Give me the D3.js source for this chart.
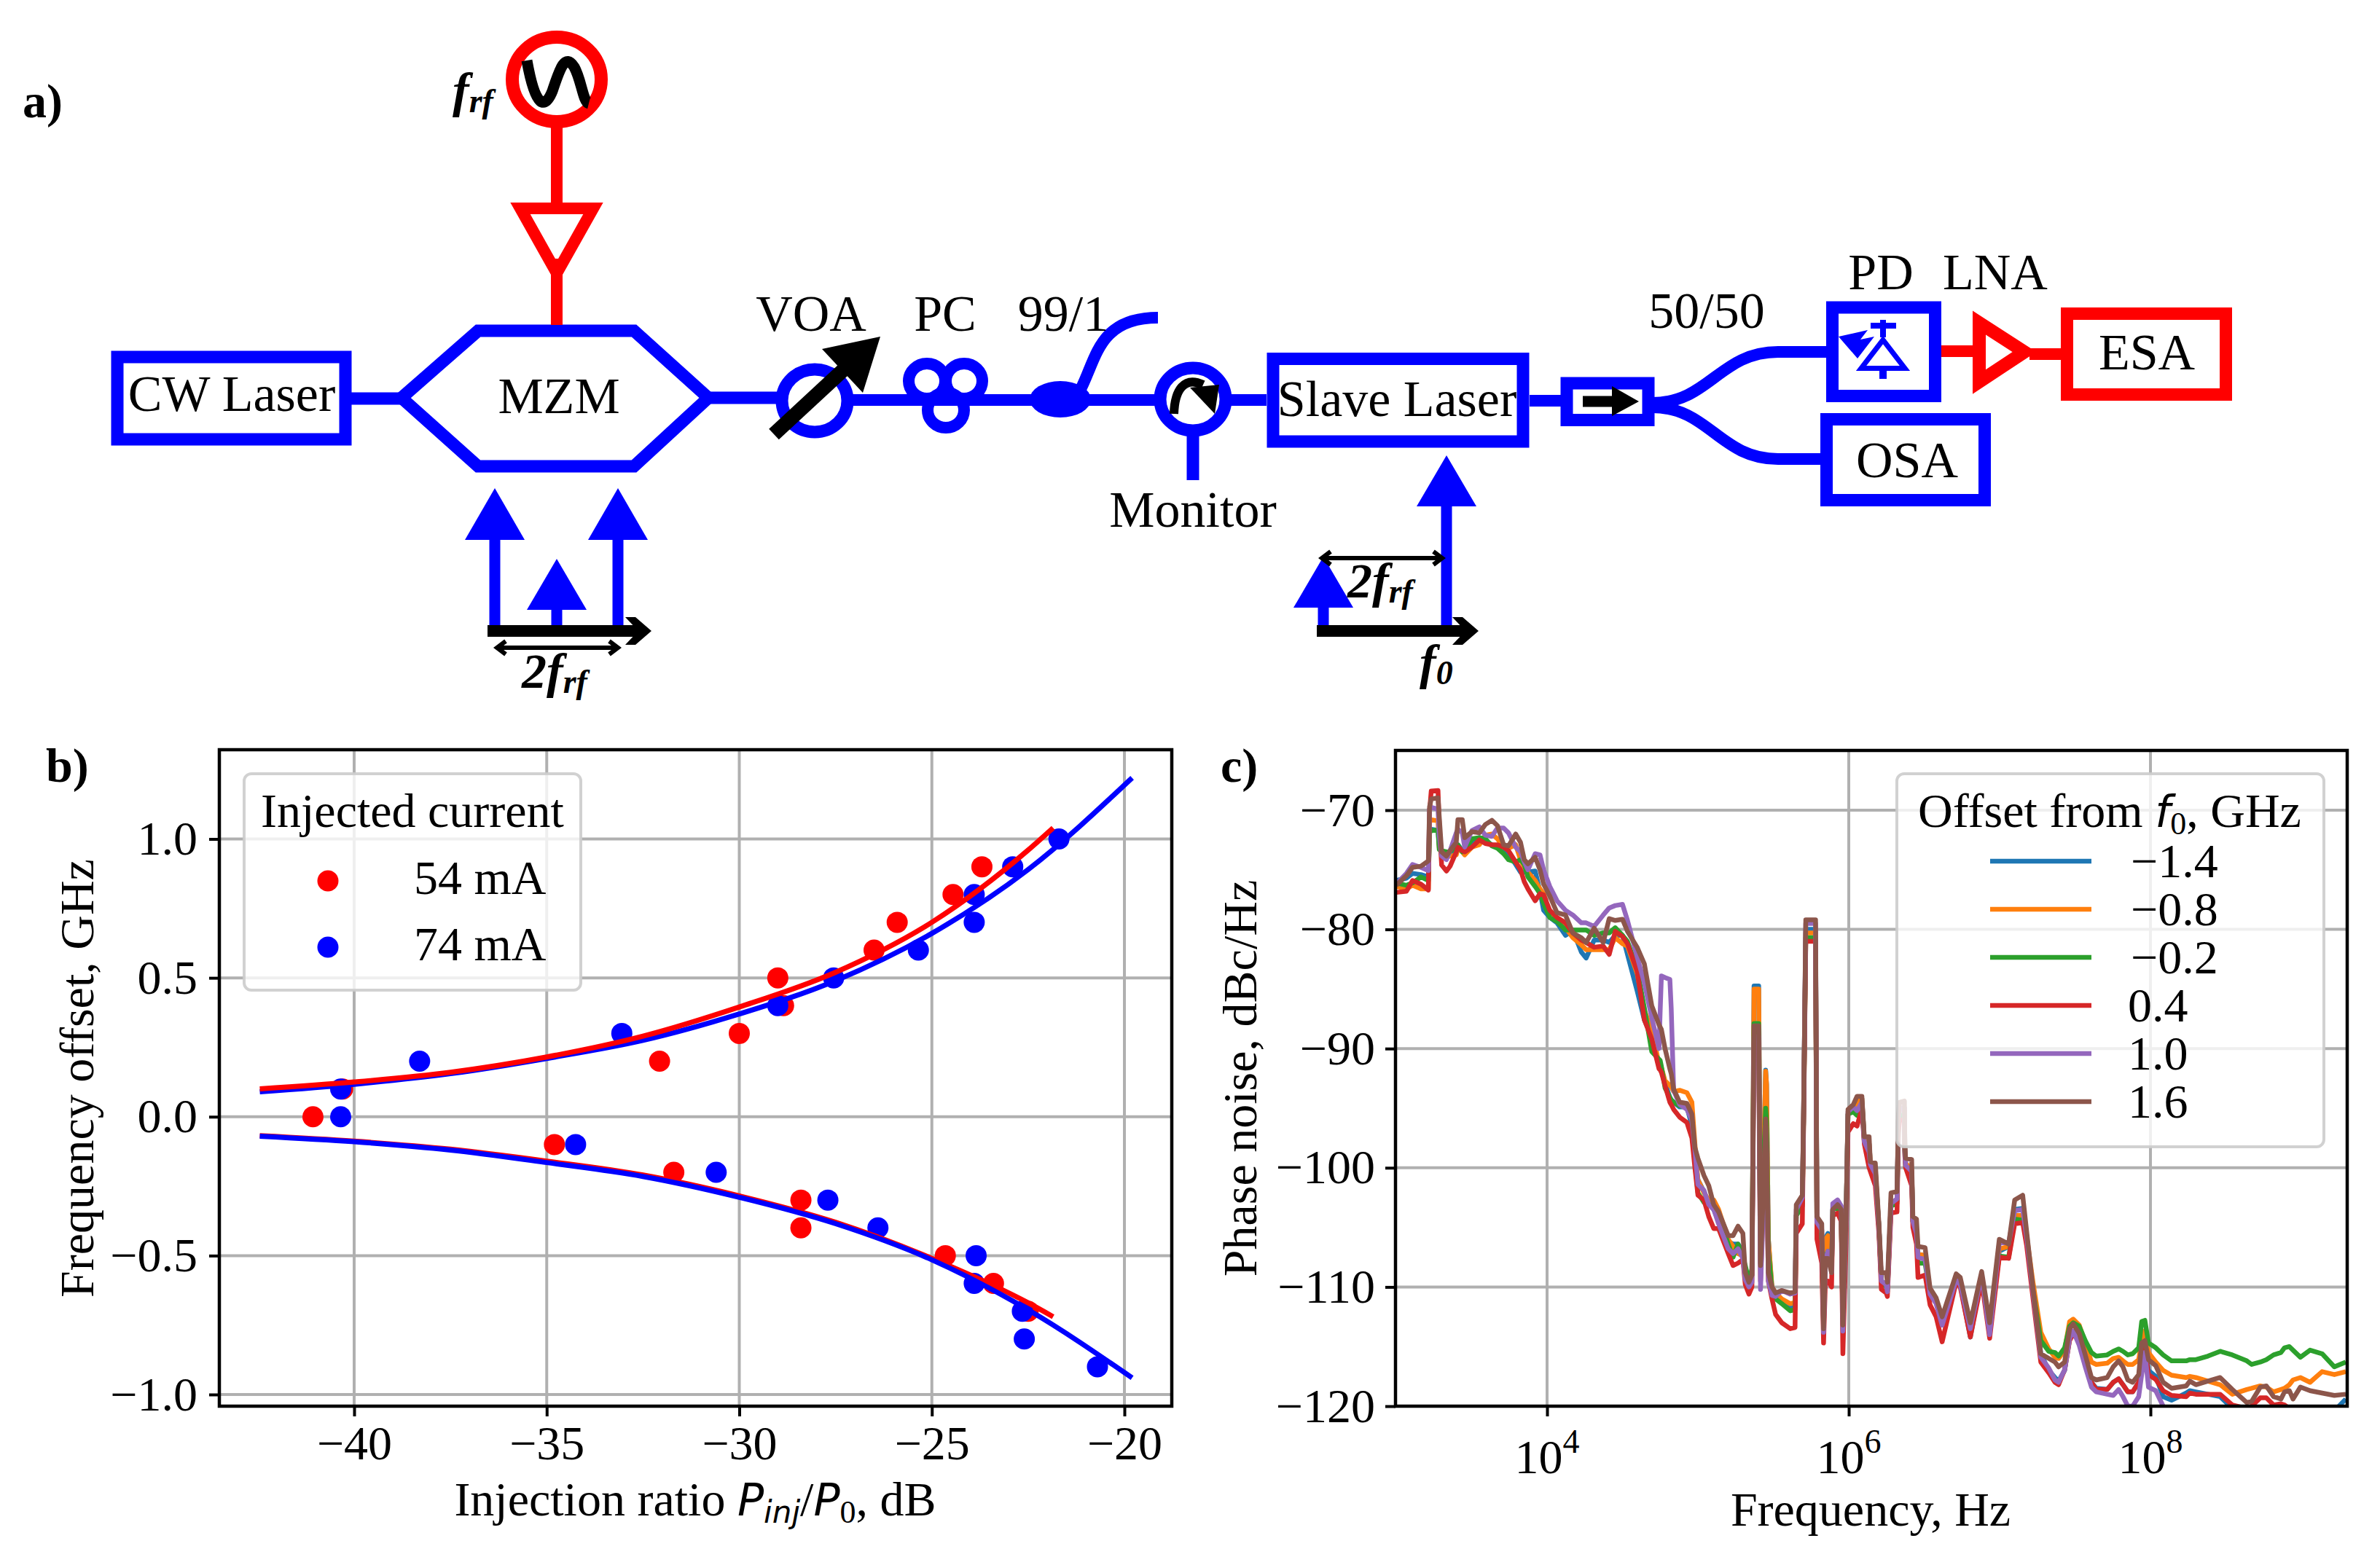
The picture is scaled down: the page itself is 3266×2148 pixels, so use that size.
<!DOCTYPE html>
<html><head><meta charset="utf-8">
<script src="https://cdn.jsdelivr.net/npm/d3@7/dist/d3.min.js"></script>
<style>html,body{margin:0;padding:0;background:#fff}svg{display:block}text{font-family:"Liberation Serif",serif;fill:#000}</style>
</head><body><svg id="c" width="3266" height="2148"></svg>
<script>
// ---------- panel b data ----------
const red54Dots = [[-41.07,0],[-40.3,0.1],[-32.07,0.2],[-30,0.3],[-29,0.5],[-28.85,0.4],[-26.5,0.6],[-25.9,0.7],[-24.45,0.8],[-23.7,0.9],
 [-34.8,-0.1],[-31.7,-0.2],[-28.4,-0.3],[-28.4,-0.4],[-24.65,-0.5],[-23.4,-0.6],[-22.5,-0.7]];
const blue74Dots = [[-40.35,0],[-40.35,0.1],[-38.3,0.2],[-33.05,0.3],[-29,0.4],[-27.55,0.5],[-25.35,0.6],[-23.9,0.7],[-23.9,0.8],[-22.9,0.9],[-21.7,1.0],
 [-34.25,-0.1],[-30.6,-0.2],[-27.7,-0.3],[-26.4,-0.4],[-23.85,-0.5],[-23.9,-0.6],[-22.65,-0.7],[-22.6,-0.8],[-20.7,-0.9]];
const blueFitX = [-42.45,-40,-37.5,-35,-32.5,-30,-27.5,-25,-22.5,-19.8];
const blueUpper = [0.09,0.117,0.155,0.21,0.275,0.37,0.49,0.66,0.89,1.22];
const blueLower = [-0.07,-0.09,-0.12,-0.165,-0.215,-0.29,-0.385,-0.515,-0.695,-0.94];
const redFitX = [-42.45,-40,-37.5,-35,-32.5,-30,-27.5,-25,-22.5,-21.85];
const redUpper = [0.1,0.125,0.16,0.215,0.29,0.395,0.52,0.7,0.96,1.04];
const redLower = [-0.068,-0.088,-0.117,-0.16,-0.21,-0.285,-0.38,-0.51,-0.67,-0.72];
const bXTicks = [-40,-35,-30,-25,-20];
const bYTicks = [-1,-0.5,0,0.5,1];
// ---------- panel c data ----------
const offsetLabels = ["\u22121.4","\u22120.8","\u22120.2","0.4","1.0","1.6"];
const lineColors = ["#1f77b4","#ff7f0e","#2ca02c","#d62728","#9467bd","#8c564b"];
const cXTicks = [4,6,8];
const cYTicks = [-120,-110,-100,-90,-80,-70];
const logFreq = [
3.0,3.068,3.108,3.164,3.213,3.221,3.232,3.277,3.285,3.301,3.333,3.357,3.398,3.409,3.438,3.454,3.502,3.551,3.591,3.634,3.671,3.712,3.744,3.792,3.824,3.849,3.873,3.921,3.953,3.977,4.018,4.066,4.122,4.171,4.227,4.259,4.312,4.372,4.412,
4.452,4.5,4.533,4.597,4.645,4.694,4.742,4.75,4.758,4.782,4.814,4.823,4.839,4.879,4.927,4.96,4.98,
5.0,5.04,5.072,5.105,5.137, 5.201,5.233,5.266,5.298,5.314, 5.338,5.358,5.372,5.403,5.415, 5.44,5.449,5.455,5.467,5.491, 5.515,5.556,5.612,5.644,5.652, 5.692,5.7,5.715,5.78,5.789, 5.821,5.833,5.845,5.862,5.886, 5.894,5.926,5.95,5.961,5.982, 5.995,6.03,6.055,6.087,6.103, 6.135,6.143,6.176,6.2,6.216, 6.248,6.256,6.28,6.32,6.329, 6.337,6.369,6.372,6.377,6.417, 6.425,6.449,6.459,6.506,6.539, 6.579,6.619,6.712,6.739,6.806, 6.881,6.934,6.998,7.06,7.1, 7.153,7.179,7.22,7.273,7.326,
7.367,7.391,7.431,7.464,7.488,7.528,7.568,7.609,7.641,7.713,7.753,7.789,7.818,7.85,7.882,7.922,7.942,7.963,7.987,8.035,8.084,8.14,8.237,8.261,8.301,8.381,8.462,8.543,8.639,8.671,8.728,8.768,8.816,8.865,8.889,8.921,8.945,8.994,9.058,9.138,9.219,9.295];
const noiseBlue = [
-75.9,-75.7,-75.3,-75.4,-75.6,-71.7,-71.6,-71.7,-72.9,-73.75,-73.95,-73.75,-72.9,-72.9,-73.4,-73.5,-72.6,-72.3,-72.6,-72.9,-73.1,-73.4,-73.65,-74.55,-75.2,-75.2,-75.2,-75.1,-76.8,-78.4,-79,-79.45,-80.5,-80.1,-81.9,-82.4,-80.9,-80.9,-81.1,
-80.5,-80.5,-82.1,-85.15,-87.6,-89,-91.3,-91.5,-91.7,-92.9,-94.1,-94.3,-94.5,-94.9,-94.9,-96.5,-99,
-101,-102,-103,-103.5,-104.5, -106.2,-106.4,-106.4,-107,-108.7, -110,-109,-84.75,-84.75,-108, -97,-91.8,-93,-106,-110.2, -110.7,-111.2,-111.8,-111.7,-104, -103,-96,-80,-80,-105, -106,-113,-105.9,-105.5,-108, -103.5,-103.3,-104,-113,-104.5, -95.5,-95.2,-94.5,-94.2,-97.6, -98,-99.5,-100.2,-105,-109.5, -109.8,-110.2,-103,-102.8,-96, -95,-95,-98.5,-99.6,-100.5, -104.5,-105.2,-107.2,-107.4,-110.4, -111.1,-113.2,-109.4,-109.8,-114.2, -109,-113.7,-107,-106.6,-103.5, -103.4,-105.7,-110.3,-115.6,-117,
-117.6,-117.9,-117,-114.4,-113.8,-114.5,-116,-118,-118.5,-118.6,-118,-117.7,-118.2,-118.8,-118.8,-118,-115.5,-115,-117,-117.5,-119.2,-119.5,-118.9,-118.7,-118.8,-119,-119.2,-120.2,-120.6,-120.8,-120.7,-120.6,-120.8,-120.7,-120.7,-120.7,-120.7,-120.6,-120.7,-120.7,-120.4,-119.4];
const noiseOrange = [
-76.4,-76.6,-76.3,-76.6,-76.6,-70.9,-70.8,-70.9,-73.1,-73.75,-73.95,-73.85,-73.75,-73.2,-73.5,-73.75,-73.1,-72.9,-72.1,-72,-72.4,-73.1,-73.2,-72.9,-74.15,-74.8,-75.2,-75.9,-76.6,-77,-78.8,-79.25,-79.85,-80.7,-81.3,-81.7,-81.7,-81.7,-81.7,
-80.7,-81.2,-81.4,-83.7,-86.8,-88.4,-91.3,-91.5,-91.6,-92.7,-93.1,-93.2,-93.6,-93.5,-93.7,-94.5,-98,
-101,-102.1,-102.7,-102.7,-103.5, -106,-106.6,-107.2,-107.4,-108.5, -110,-109,-85,-85,-108, -97,-91.9,-93,-106,-110, -110.5,-111,-111.4,-111.3,-104, -103,-96,-80.3,-80.3,-105, -107,-113,-106,-105.7,-108, -103.5,-103.3,-104,-113,-104.5, -95.5,-95.2,-94.5,-94.2,-97.6, -98,-99.5,-100.2,-105,-109.5, -109.8,-110.2,-103,-102.8,-96, -95,-95,-98.5,-99.6,-100.2, -104.5,-105.2,-107.2,-107.4,-110.4, -111.1,-113,-109.3,-109.7,-113.5, -109.2,-113.5,-106.8,-106.6,-104, -104,-105.7,-109.5,-113.8,-115.2,
-115.9,-116,-115.3,-112.9,-112.7,-113.2,-114.7,-116.3,-116.5,-116.4,-116,-115.9,-116.2,-116.5,-116.5,-116.1,-114.5,-113.7,-115.5,-116.3,-117,-117.4,-117.6,-117.5,-117.6,-117.9,-118.2,-119,-118.6,-118.5,-118.3,-118.4,-118.8,-118.6,-118.5,-118.2,-117.8,-117.6,-118,-117.1,-117.35,-117.1];
const noiseGreen = [
-76.1,-76.3,-76.1,-75.6,-75.9,-71.9,-71.7,-71.7,-73.3,-73.4,-73.5,-73.5,-72.9,-72.9,-73.5,-73.4,-72.4,-72.3,-72.4,-73,-73.2,-73.65,-74.15,-74.35,-74.15,-74.55,-75.6,-76.4,-77,-77.8,-79,-79.35,-80.05,-80.05,-80.05,-80.05,-80.5,-80.3,-80.3,
-79.86,-80.5,-81,-83.3,-86.6,-90.25,-90.9,-91,-91.5,-93.3,-94.1,-94.3,-94.5,-94.8,-94.9,-96,-99.5,
-102.1,-102.9,-103.1,-103.3,-103.9, -106.4,-107.5,-106.4,-107.5,-108.2, -109.5,-108.5,-87.9,-87.9,-108, -98,-95,-96,-107,-110.2, -111,-111.4,-112,-111.9,-104, -103.2,-96.5,-80.7,-80.7,-105.5, -106,-113.5,-107.5,-107,-108.5, -103.5,-103.3,-104,-113.2,-104.5, -95.5,-95.3,-95.6,-94.6,-97.8, -98.5,-100,-100.5,-105,-109.5, -110,-110.4,-103.2,-103,-96.5, -95.6,-95.6,-98.8,-100,-100.5, -104.5,-105.5,-108,-108,-110.6, -111.2,-112.8,-109.3,-109.7,-113.3, -109.5,-113.3,-107.4,-107.5,-104.3, -104.4,-105.8,-110.2,-114.5,-115.4,
-115.5,-115.8,-115.1,-113.3,-113,-113.3,-114.5,-115.5,-115.8,-115.7,-115.4,-115.2,-115.4,-115.7,-115.6,-115.1,-112.9,-112.8,-114.7,-115.1,-115.7,-116.2,-116.2,-116.1,-116.1,-115.8,-115.4,-115.7,-116.2,-116.5,-116.3,-116.1,-115.7,-115.5,-115.1,-115,-115.3,-115.9,-115.3,-115.6,-116.7,-116.3];
const noiseRed = [
-76.9,-76.8,-75.9,-76.2,-76.7,-70.1,-68.4,-68.35,-71.1,-74.6,-75.1,-74.7,-73.5,-73.1,-73.4,-73.5,-73.1,-72.5,-72.8,-72.9,-72.9,-73.1,-73.4,-74.35,-75,-76,-76.6,-77.6,-77,-77.1,-78.4,-79,-79.45,-80.3,-80.9,-81.1,-81.5,-81.4,-82.1,
-80.17,-80.6,-81.2,-83.5,-87.6,-89.2,-91.7,-91.8,-92,-93.1,-94.5,-94.7,-95.1,-95.75,-96.2,-97.5,-100,
-102.3,-102.7,-104.1,-105.1,-105.1, -107.2,-108.2,-108,-107.7,-109.8, -110.6,-110,-89.5,-89.5,-109.5, -100.5,-96.5,-99,-109.5,-111, -112.3,-113,-113.5,-113.4,-105.5, -104.7,-97,-81,-81,-106, -108,-114.7,-109.5,-109.5,-110, -104,-103.8,-104.5,-115.6,-106.3, -97,-96.3,-96.5,-95,-98, -100,-100.3,-101.5,-105.5,-110.2, -110.5,-110.8,-103.8,-103.7,-97, -96,-96,-99,-100,-101.5, -105,-106.4,-109.2,-109,-111.5, -112.5,-114.6,-109.6,-110,-114.2, -109.5,-114.3,-107.5,-107.6,-104.7, -104.6,-106.5,-110.8,-116.3,-117.2,
-118,-118.2,-116.95,-114.5,-113.9,-114.5,-116.1,-118,-118.6,-118.6,-118,-117.7,-118.2,-118.8,-118.8,-118,-115.5,-115.1,-117.35,-117.75,-118.7,-119.1,-119.2,-118.9,-119,-119,-119,-119.9,-120.2,-120,-119.3,-119.3,-119.9,-119.8,-119.9,-120.2,-120.6,-120.6,-120.8,-120.8,-120.8,-120.8];
const noisePurple = [
-76.2,-75.3,-74.56,-74.8,-75.07,-69.9,-69.77,-69.9,-72.1,-73.85,-74.15,-73.4,-71.9,-71.6,-71.9,-73.1,-71.7,-71.4,-72.1,-72.2,-71.5,-71.5,-71.9,-73.1,-73.5,-74.35,-75,-73.65,-73.75,-75,-76.4,-77.6,-78.4,-78.8,-79.45,-79.45,-79.75,-78.8,-78.2,
-78,-77.9,-79.25,-82.3,-84.5,-87.4,-90,-86.8,-83.9,-84.04,-84.2,-86.6,-93.5,-94.7,-95.1,-96,-98.5,
-101.4,-101.9,-103.1,-103.5,-104.7, -106.8,-107.2,-106.8,-107.6,-109.4, -110,-109.6,-89,-89,-110.2, -101,-96.5,-99,-109.5,-110.7, -110.8,-110.3,-110.6,-110.5,-103.5, -102.5,-96,-79.5,-79.5,-104.6, -105.2,-113.8,-107.8,-107,-108.8, -103,-102.7,-103.2,-113.7,-104.6, -95.3,-94.9,-95.2,-94.5,-97.8, -98.7,-99.7,-100.5,-105,-109.5, -109.8,-110.4,-103,-102.6,-96, -95,-95,-98.6,-99.8,-100.3, -104.5,-105.5,-107.5,-107.7,-110.6, -111.4,-113.2,-109.4,-109.8,-113.5, -109,-114,-106.3,-106.3,-103.6, -103.5,-105.8,-110.3,-115.9,-116.8,
-117.8,-118,-116.95,-114.3,-113.7,-114.9,-116.7,-118.4,-118.8,-119,-119.1,-118.6,-119.2,-120,-120,-119.2,-117.35,-115.5,-118.4,-118.7,-120,-120.8,-121,-121,-121,-121,-121,-121,-121,-121,-121,-121,-121,-121,-121,-121,-121,-121,-121,-121,-121,-121];
const noiseBrown = [
-76.3,-75.5,-74.8,-74.7,-74.25,-69.7,-69.06,-68.96,-70.5,-73.5,-73.85,-73.4,-72.7,-70.8,-70.8,-72.3,-71.8,-71.9,-71.2,-70.85,-71.3,-72.9,-73,-72,-72.7,-74.15,-74.5,-73.95,-75,-76.2,-77.2,-78.6,-78.8,-80.3,-80.7,-81.1,-79.9,-81.1,-79.1,
-79.25,-79.15,-80.17,-81.5,-82.9,-86.4,-88,-88.2,-88.4,-90,-91.7,-92.1,-93.4,-94.5,-94.6,-95.5,-98.3,
-99.2,-100.65,-101.5,-103.1,-103.7, -105.7,-105.7,-104.9,-105.5,-108.8, -109.6,-109,-88.1,-88.1,-108.2, -100,-95.9,-98,-108.8,-110, -110.5,-110.3,-110.5,-110.4,-103.1, -102.3,-96,-79.2,-79.2,-104.1, -104.7,-113.5,-107.6,-107.6,-108.8, -103.5,-103.1,-103.5,-113.2,-104.1, -95.1,-94.7,-94,-94,-97.4, -97.4,-99.5,-99.6,-104.7,-108.8, -108.8,-109.6,-102.1,-102,-95.6, -94.5,-94.4,-98.2,-99.2,-99.3, -104.1,-104.3,-106.6,-106.7,-110.1, -110.9,-112.5,-108.9,-109.2,-113, -108.7,-113,-106,-106.4,-102.7, -102.3,-105.3,-110,-115.6,-116,
-116.3,-116.7,-116.3,-113.5,-113.1,-113.9,-115.7,-117.6,-117.8,-117.6,-116.7,-116.2,-116.7,-117.8,-118,-117.35,-114.7,-114.5,-116.1,-116.6,-118,-118.5,-118.3,-117.9,-118.2,-117.9,-117.6,-118.6,-119.7,-119.6,-118.4,-118.3,-119.2,-119.4,-118.8,-118.7,-119.4,-118.4,-118.7,-118.9,-119.1,-119];
const noiseSeries = [noiseBlue,noiseOrange,noiseGreen,noiseRed,noisePurple,noiseBrown];

const svg = d3.select("#c");
const BLUE="#0000ff", RED="#ff0000", BLK="#000", GRID="#b0b0b0";
const FS=66, DS=70, MATH="DejaVu Sans";
const T=(x,y,s,o={})=>{const t=svg.append("text").attr("x",x).attr("y",y).attr("font-size",o.size||FS)
  .attr("text-anchor",o.anchor||"middle").text(s);
  if(o.bold)t.attr("font-weight","bold"); if(o.italic)t.attr("font-style","italic"); return t;};

// ---------- panel a: schematic ----------
const box=(x0,y0,x1,y1,c)=>svg.append("rect").attr("x",x0).attr("y",y0).attr("width",x1-x0).attr("height",y1-y0).attr("fill","none").attr("stroke",c).attr("stroke-width",17);
const seg=(x0,y0,x1,y1,c,w)=>svg.append("line").attr("x1",x0).attr("y1",y0).attr("x2",x1).attr("y2",y1).attr("stroke",c).attr("stroke-width",w||16);
const poly=(d,c)=>svg.append("polygon").attr("points",d).attr("fill",c);
const pth=(d,c,w,f)=>svg.append("path").attr("d",d).attr("fill",f||"none").attr("stroke",c).attr("stroke-width",w).attr("stroke-linejoin","miter");
const ell=(x,y,rx,ry,c,w)=>svg.append("ellipse").attr("cx",x).attr("cy",y).attr("rx",rx).attr("ry",ry).attr("fill","none").attr("stroke",c).attr("stroke-width",w);
const upArrow=(x,tip,base,end)=>{seg(x,base-1,x,end,BLUE,15);poly(`${x},${tip} ${x-41},${base} ${x+41},${base}`,BLUE);};
const freqAxis=(x0,x1,y)=>{seg(x0,y,x1-14,y,BLK,16);poly(`${x1-36},${y-19} ${x1-22},${y-19} ${x1},${y} ${x1-22},${y+19} ${x1-36},${y+19} ${x1-18},${y}`,BLK);};
const dblArrow=(x0,x1,y)=>{seg(x0+3,y,x1-3,y,BLK,6);
  pth(`M${x0+15},${y-9}L${x0+3},${y}L${x0+15},${y+9}`,BLK,6);pth(`M${x1-15},${y-9}L${x1-3},${y}L${x1-15},${y+9}`,BLK,6);};
const frf=(x,y,two)=>{const t=svg.append("text").attr("x",x).attr("y",y).attr("font-size",68).attr("font-weight","bold").attr("font-style","italic");
  t.append("tspan").text((two?"2":"")+"f");
  t.append("tspan").attr("font-size",46).attr("dy",7).text("rf");};

seg(474,547,560,547,BLUE,17);
box(161,490,474,603,BLUE);
T(318,564,"CW Laser",{size:DS});
pth("M551,546L656,454L870,454L972,546L870,640L656,640Z",BLUE,17);
T(767,567,"MZM",{size:DS});
seg(764,170,764,290,RED,16);seg(764,355,764,446,RED,16);
pth("M714,286L814,286L764,375Z",RED,16);
ell(764,109,61,58,RED,18);
pth("M723,83C735,150 748,150 758,125C768,95 775,72 788,92C798,110 800,140 808,142",BLK,15);
frf(621,147);
upArrow(679,670,741,858);upArrow(848,670,741,858);upArrow(764,767,837,858);
freqAxis(669,894,866);dblArrow(679,851,889);frf(716,944,true);

seg(966,546,1075,546,BLUE,17);
ell(1118,550,45,43,BLUE,17);
seg(1163,549,1738,549,BLUE,16);
pth("M1062,596L1157,508",BLK,20);
poly("1208,462 1128,479 1184,539",BLK);
T(1113,454,"VOA",{size:DS});
[[1272,523],[1323,523],[1298,563]].forEach(d=>ell(d[0],d[1],25,24,BLUE,16));
T(1297,454,"PC",{size:DS});
svg.append("ellipse").attr("cx",1455).attr("cy",548).attr("rx",42).attr("ry",25).attr("fill",BLUE);
pth("M1480,540C1505,495 1505,436 1589,436",BLUE,16);
T(1459,454,"99/1",{size:DS});
svg.append("ellipse").attr("cx",1637).attr("cy",548).attr("rx",45).attr("ry",43).attr("fill","#fff").attr("stroke",BLUE).attr("stroke-width",17);
seg(1637,590,1637,659,BLUE,17);
pth("M1611,568C1612,535 1625,516 1651,528",BLK,12);
poly("1633,532 1673,528 1667,568",BLK);
T(1637,723,"Monitor",{size:DS});
svg.append("rect").attr("x",1747).attr("y",492.5).attr("width",343).attr("height",113.5).attr("fill","#fff").attr("stroke",BLUE).attr("stroke-width",17);
T(1917,571,"Slave Laser",{size:DS});
upArrow(1985,625,695,858);upArrow(1816,764,834,858);
freqAxis(1807,2029,866);dblArrow(1811,1982,766);frf(1849,820,true);
const f0=svg.append("text").attr("x",1948).attr("y",932).attr("font-size",68).attr("font-weight","bold").attr("font-style","italic");
f0.append("tspan").text("f");f0.append("tspan").attr("font-size",46).attr("dy",7).text("0");

seg(2099,550,2145,550,BLUE,16);
box(2150,526,2262,576.5,BLUE);
seg(2172,551,2212,551,BLK,15);poly("2212,530 2249,551 2212,571",BLK);
pth("M2268,553C2345,553 2360,483 2440,483L2507,483",BLUE,16);
pth("M2268,559C2345,559 2360,630 2440,630L2499,630",BLUE,16);
box(2514.5,422,2655.5,543.5,BLUE);
pth("M2584,466.5L2554,505.5L2614,505.5Z",BLUE,7);
svg.append("rect").attr("x",2567).attr("y",443).attr("width",35).attr("height",8).attr("fill",BLUE);
seg(2584,439,2584,463,BLUE,8);seg(2584,505.5,2584,520,BLUE,10);
poly("2523,462 2563,453 2553,466 2572,462 2549,492",BLUE);
seg(2664,482,2712,482,RED,16);
pth("M2716,443L2778,483L2716,524Z",RED,18);
seg(2785,486,2828,486,RED,16);
box(2836.5,430.5,3054.5,541.5,RED);
T(2946,506.5,"ESA",{size:DS});
box(2506.5,575.5,2723.5,686.5,BLUE);
T(2617,654.6,"OSA",{size:DS});
T(2581,396.5,"PD",{size:DS});
T(2738,396.5,"LNA",{size:DS});
T(2342,450,"50/50",{size:DS});

T(31,161,"a)",{anchor:"start",bold:true});
T(63,1073,"b)",{anchor:"start",bold:true});
T(1675,1073,"c)",{anchor:"start",bold:true});

// ---------- panel b ----------
const bL=301,bR=1608,bT=1029,bB=1930;
const xb=d3.scaleLinear().domain([-40,-20]).range([486,1543]);
const yb=d3.scaleLinear().domain([-1,1]).range([1914,1151.5]);
const gb=svg.append("g");
gb.append("g").selectAll("line").data(bXTicks).join("line").attr("x1",d=>xb(d)).attr("x2",d=>xb(d)).attr("y1",bT).attr("y2",bB).attr("stroke",GRID).attr("stroke-width",4);
gb.append("g").selectAll("line").data(bYTicks).join("line").attr("y1",d=>yb(d)).attr("y2",d=>yb(d)).attr("x1",bL).attr("x2",bR).attr("stroke",GRID).attr("stroke-width",4);
gb.append("g").selectAll("circle").data(red54Dots).join("circle").attr("cx",d=>xb(d[0])).attr("cy",d=>yb(d[1])).attr("r",14.5).attr("fill",RED);
gb.append("g").selectAll("circle").data(blue74Dots).join("circle").attr("cx",d=>xb(d[0])).attr("cy",d=>yb(d[1])).attr("r",14.5).attr("fill",BLUE);
const fitLine=d3.line().x(d=>xb(d[0])).y(d=>yb(d[1])).curve(d3.curveMonotoneX);
const zip=(a,b)=>a.map((v,i)=>[v,b[i]]);
[[blueFitX,blueUpper,BLUE],[redFitX,redUpper,RED],[redFitX,redLower,RED],[blueFitX,blueLower,BLUE]].forEach(s=>
  gb.append("path").attr("d",fitLine(zip(s[0],s[1]))).attr("fill","none").attr("stroke",s[2]).attr("stroke-width",7));
const axb=svg.append("g").attr("transform",`translate(0,${bB})`).call(d3.axisBottom(xb).tickValues(bXTicks).tickSize(14).tickPadding(12).tickFormat(d3.format("d")));
const ayb=svg.append("g").attr("transform",`translate(${bL},0)`).call(d3.axisLeft(yb).tickValues(bYTicks).tickSize(14).tickPadding(16).tickFormat(d3.format(".1f")));
[axb,ayb].forEach(a=>{a.select(".domain").remove();a.selectAll("line").attr("stroke","#000").attr("stroke-width",4);
  a.selectAll("text").attr("font-size",FS).attr("font-family","Liberation Serif");});
svg.append("rect").attr("x",bL).attr("y",bT).attr("width",bR-bL).attr("height",bB-bT).attr("fill","none").attr("stroke","#000").attr("stroke-width",4.5);
// legend b
svg.append("rect").attr("x",335).attr("y",1062).attr("width",462).attr("height",297).attr("rx",10).attr("fill","#fff").attr("fill-opacity",0.8).attr("stroke","#cccccc").attr("stroke-opacity",0.9).attr("stroke-width",4);
T(566,1135,"Injected current");
[[RED,1209,1227,"54 mA"],[BLUE,1300,1318,"74 mA"]].forEach(r=>{
  svg.append("circle").attr("cx",450).attr("cy",r[1]).attr("r",14.5).attr("fill",r[0]);
  T(568,r[2],r[3],{anchor:"start"});});
const xlb=svg.append("text").attr("x",954).attr("y",2080).attr("text-anchor","middle").attr("font-size",FS);
xlb.append("tspan").text("Injection ratio ");
xlb.append("tspan").attr("font-style","italic").attr("font-family",MATH).attr("font-size",60).text("P");
xlb.append("tspan").attr("font-style","italic").attr("font-family",MATH).attr("font-size",42).attr("dy",10).text("inj");
xlb.append("tspan").attr("dy",-10).text("/");
xlb.append("tspan").attr("font-style","italic").attr("font-family",MATH).attr("font-size",60).text("P");
xlb.append("tspan").attr("font-size",44).attr("dy",10).text("0");
xlb.append("tspan").attr("dy",-10).text(", dB");
svg.append("text").attr("transform","translate(128,1480) rotate(-90)").attr("text-anchor","middle").attr("font-size",FS).text("Frequency offset, GHz");

// ---------- panel c ----------
const cL=1915,cR=3221,cT=1030,cB=1930;
const xc=d3.scaleLog().domain([1e4,1e8]).range([2123,2951]);
const yc=d3.scaleLinear().domain([-120,-70]).range([1930,1112]);
const gc=svg.append("g");
svg.append("clipPath").attr("id","cc").append("rect").attr("x",cL).attr("y",cT).attr("width",cR-cL).attr("height",cB-cT);
gc.append("g").selectAll("line").data(cXTicks).join("line").attr("x1",d=>xc(10**d)).attr("x2",d=>xc(10**d)).attr("y1",cT).attr("y2",cB).attr("stroke",GRID).attr("stroke-width",4);
gc.append("g").selectAll("line").data(cYTicks).join("line").attr("y1",d=>yc(d)).attr("y2",d=>yc(d)).attr("x1",cL).attr("x2",cR).attr("stroke",GRID).attr("stroke-width",4);
const noiseLine=d3.line().x(d=>xc(10**d[0])).y(d=>yc(d[1]));
const plc=gc.append("g").attr("clip-path","url(#cc)");
noiseSeries.forEach((s,i)=>plc.append("path").attr("d",noiseLine(zip(logFreq,s))).attr("fill","none").attr("stroke",lineColors[i]).attr("stroke-width",6.5).attr("stroke-linejoin","round"));
const ayc=svg.append("g").attr("transform",`translate(${cL},0)`).call(d3.axisLeft(yc).tickValues(cYTicks).tickSize(14).tickPadding(14).tickFormat(d3.format("d")));
ayc.select(".domain").remove();ayc.selectAll("line").attr("stroke","#000").attr("stroke-width",4);
ayc.selectAll("text").attr("font-size",FS).attr("font-family","Liberation Serif");
const axc=svg.append("g").attr("transform",`translate(0,${cB})`).call(d3.axisBottom(xc).tickValues(cXTicks.map(d=>10**d)).tickSize(14).tickFormat(""));
axc.select(".domain").remove();axc.selectAll("line").attr("stroke","#000").attr("stroke-width",4);
cXTicks.forEach(e=>{const t=svg.append("text").attr("x",xc(10**e)).attr("y",2022).attr("text-anchor","middle").attr("font-size",FS);
  t.append("tspan").text("10");t.append("tspan").attr("font-size",46).attr("dy",-28).text(e);});
svg.append("rect").attr("x",cL).attr("y",cT).attr("width",cR-cL).attr("height",cB-cT).attr("fill","none").attr("stroke","#000").attr("stroke-width",4.5);
// legend c
svg.append("rect").attr("x",2603).attr("y",1062).attr("width",586).attr("height",512).attr("rx",10).attr("fill","#fff").attr("fill-opacity",0.8).attr("stroke","#cccccc").attr("stroke-opacity",0.9).attr("stroke-width",4);
const lt=svg.append("text").attr("x",2895).attr("y",1135).attr("text-anchor","middle").attr("font-size",FS);
lt.append("tspan").text("Offset from ");
lt.append("tspan").attr("font-style","italic").attr("font-family",MATH).attr("font-size",60).text("f");
lt.append("tspan").attr("font-size",44).attr("dy",10).text("0");
lt.append("tspan").attr("dy",-10).text(", GHz");
offsetLabels.forEach((l,i)=>{const y=1182+i*66;
  seg(2731,y,2870,y,lineColors[i],6.5);
  T(l.startsWith("\u2212")?2924:2920,y+22,l,{anchor:"start"});});
svg.append("text").attr("x",2567).attr("y",2094).attr("text-anchor","middle").attr("font-size",FS).text("Frequency, Hz");
svg.append("text").attr("transform","translate(1724,1480) rotate(-90)").attr("text-anchor","middle").attr("font-size",FS).text("Phase noise, dBc/Hz");
</script></body></html>
